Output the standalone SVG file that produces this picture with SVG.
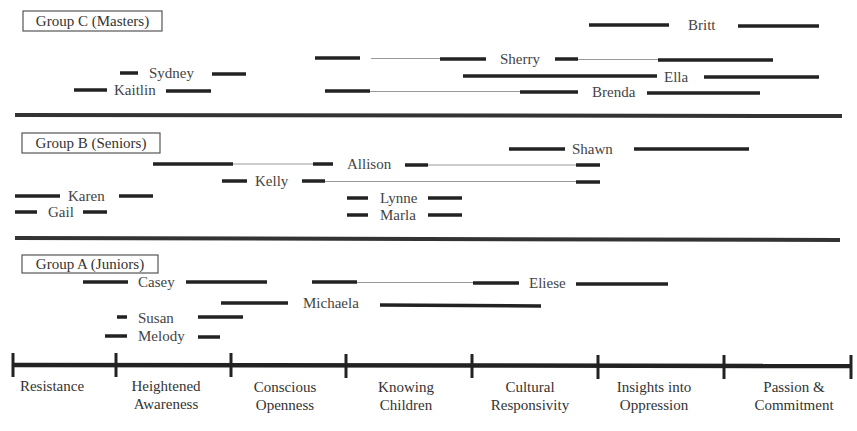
<svg xmlns="http://www.w3.org/2000/svg" width="857" height="431" viewBox="0 0 857 431">
<style>
text{font-family:"Liberation Serif","Times New Roman",serif;font-size:15px;fill:#444}
.bar{stroke:#222;stroke-width:3.5;fill:none}
.thin{stroke:#999;stroke-width:1;fill:none}
.sep{stroke:#333;stroke-width:4}
.box{fill:#fff;stroke:#555;stroke-width:1.2}
.axis{stroke:#222;stroke-width:4.5}
.tick{stroke:#222;stroke-width:3}
.lbl{text-anchor:middle;fill:#333}
</style>
<rect width="857" height="431" fill="#fff"/>

<g id="group-c">
<rect class="box" x="23" y="11" width="139" height="20"/>
<text class="lbl" x="92.5" y="26">Group C (Masters)</text>
</g>
<g id="britt"><line class="bar" x1="589" y1="25" x2="669" y2="25"/><text x="688" y="30">Britt</text><line class="bar" x1="738" y1="26" x2="819" y2="26"/></g>
<g id="sherry"><line class="bar" x1="315" y1="58" x2="360" y2="58"/><line class="thin" x1="371" y1="58.5" x2="440" y2="58.5"/><line class="bar" x1="440" y1="59" x2="486" y2="59"/><text x="500" y="64">Sherry</text><line class="bar" x1="555" y1="59" x2="578" y2="59"/><line class="thin" x1="578" y1="59.5" x2="658" y2="59.5"/><line class="bar" x1="658" y1="60" x2="773" y2="60"/></g>
<g id="ella"><line class="bar" x1="463" y1="76" x2="657" y2="76"/><text x="664" y="82">Ella</text><line class="bar" x1="704" y1="77" x2="819" y2="77"/></g>
<g id="sydney"><line class="bar" x1="120" y1="73" x2="138" y2="73"/><text x="149" y="78">Sydney</text><line class="bar" x1="212" y1="74" x2="246" y2="74"/></g>
<g id="kaitlin"><line class="bar" x1="74" y1="90" x2="107" y2="90"/><text x="114" y="95">Kaitlin</text><line class="bar" x1="166" y1="91" x2="211" y2="91"/></g>
<g id="brenda"><line class="bar" x1="325" y1="91" x2="370" y2="91"/><line class="thin" x1="370" y1="91.5" x2="520" y2="91.5"/><line class="bar" x1="520" y1="92" x2="578" y2="92"/><text x="592" y="97">Brenda</text><line class="bar" x1="647" y1="93" x2="760" y2="93"/></g>
<line class="sep" x1="15" y1="115" x2="842" y2="116"/>

<g id="group-b">
<rect class="box" x="22" y="133" width="138" height="20"/>
<text class="lbl" x="91" y="148">Group B (Seniors)</text>
</g>
<g id="shawn"><line class="bar" x1="509" y1="149" x2="565" y2="149"/><text x="572" y="154">Shawn</text><line class="bar" x1="634" y1="149" x2="749" y2="149"/></g>
<g id="allison"><line class="bar" x1="153" y1="164" x2="233" y2="164"/><line class="thin" x1="233" y1="164" x2="313" y2="164"/><line class="bar" x1="313" y1="164" x2="333" y2="164"/><text x="347" y="169">Allison</text><line class="bar" x1="405" y1="165" x2="428" y2="165"/><line class="thin" x1="428" y1="165" x2="576" y2="165"/><line class="bar" x1="576" y1="165" x2="600" y2="165"/></g>
<g id="kelly"><line class="bar" x1="222" y1="181" x2="247" y2="181"/><text x="255" y="186">Kelly</text><line class="bar" x1="302" y1="181" x2="325" y2="181"/><line class="thin" x1="325" y1="181.5" x2="576" y2="181.5"/><line class="bar" x1="576" y1="182" x2="600" y2="182"/></g>
<g id="karen"><line class="bar" x1="15" y1="196" x2="60" y2="196"/><text x="68" y="201">Karen</text><line class="bar" x1="119" y1="196" x2="153" y2="196"/></g>
<g id="gail"><line class="bar" x1="15" y1="212" x2="37" y2="212"/><text x="48" y="217">Gail</text><line class="bar" x1="83" y1="212" x2="107" y2="212"/></g>
<g id="lynne"><line class="bar" x1="347" y1="198" x2="368" y2="198"/><text x="380" y="203">Lynne</text><line class="bar" x1="428" y1="198" x2="462" y2="198"/></g>
<g id="marla"><line class="bar" x1="347" y1="215" x2="368" y2="215"/><text x="380" y="220">Marla</text><line class="bar" x1="428" y1="215" x2="462" y2="215"/></g>
<line class="sep" x1="15" y1="238" x2="840" y2="240"/>

<g id="group-a">
<rect class="box" x="22" y="255" width="136" height="18"/>
<text class="lbl" x="90" y="269">Group A (Juniors)</text>
</g>
<g id="casey"><line class="bar" x1="83" y1="282" x2="128" y2="282"/><text x="138" y="287">Casey</text><line class="bar" x1="186" y1="282" x2="267" y2="282"/></g>
<g id="eliese"><line class="bar" x1="312" y1="282" x2="357" y2="282"/><line class="thin" x1="357" y1="282.5" x2="473" y2="282.5"/><line class="bar" x1="473" y1="283" x2="519" y2="283"/><text x="529" y="288">Eliese</text><line class="bar" x1="576" y1="284" x2="668" y2="284"/></g>
<g id="michaela"><line class="bar" x1="221" y1="303" x2="288" y2="303"/><text x="303" y="308">Michaela</text><line class="bar" x1="380" y1="305" x2="541" y2="306"/></g>
<g id="susan"><line class="bar" x1="117" y1="317" x2="127" y2="317"/><text x="138" y="323">Susan</text><line class="bar" x1="198" y1="317" x2="243" y2="317"/></g>
<g id="melody"><line class="bar" x1="105" y1="336" x2="127" y2="336"/><text x="138" y="341">Melody</text><line class="bar" x1="198" y1="337" x2="220" y2="337"/></g>

<g id="axis">
<line class="axis" x1="13" y1="365" x2="852" y2="366"/>
<line class="tick" x1="13" y1="353" x2="13" y2="377"/>
<line class="tick" x1="116" y1="353" x2="116" y2="377"/>
<line class="tick" x1="231" y1="353" x2="231" y2="377"/>
<line class="tick" x1="346" y1="354" x2="346" y2="378"/>
<line class="tick" x1="472" y1="354" x2="472" y2="378"/>
<line class="tick" x1="598" y1="355" x2="598" y2="379"/>
<line class="tick" x1="724" y1="355" x2="724" y2="379"/>
<line class="tick" x1="851" y1="355" x2="851" y2="379"/>
<text class="lbl" x="52" y="391">Resistance</text>
<text class="lbl" x="166" y="391">Heightened</text><text class="lbl" x="166" y="409">Awareness</text>
<text class="lbl" x="285" y="392">Conscious</text><text class="lbl" x="285" y="410">Openness</text>
<text class="lbl" x="406" y="392">Knowing</text><text class="lbl" x="406" y="410">Children</text>
<text class="lbl" x="530" y="392">Cultural</text><text class="lbl" x="530" y="410">Responsivity</text>
<text class="lbl" x="654" y="392">Insights into</text><text class="lbl" x="654" y="410">Oppression</text>
<text class="lbl" x="794" y="392">Passion &amp;</text><text class="lbl" x="794" y="410">Commitment</text>
</g>
</svg>
